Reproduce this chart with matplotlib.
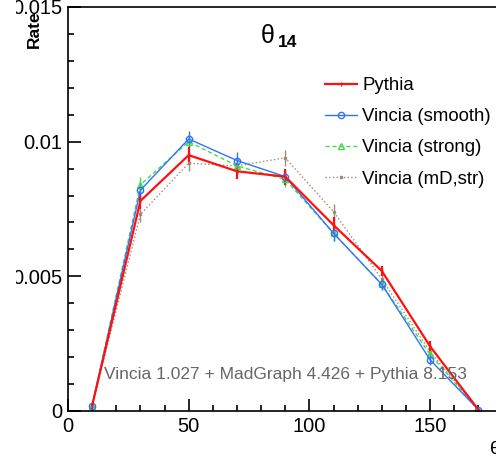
#!/usr/bin/env python
# -*- coding:utf-8 -*-
'''
theta_14 distribution: Pythia vs Vincia variants
'''

import matplotlib
matplotlib.use('Agg')
from matplotlib import pyplot as plt
from matplotlib.ticker import MultipleLocator, FixedLocator, FixedFormatter
from matplotlib.patches import Rectangle

plt.rcParams['font.family'] = ['Liberation Sans', 'DejaVu Sans']

# data
x = [10, 30, 50, 70, 90, 110, 130, 150, 170]
pythia = [0.0002, 0.0078, 0.0095, 0.0089, 0.0087, 0.0069, 0.0052, 0.0024, 0.00005]
pythia_err = [0.00005, 0.0003, 0.0003, 0.0003, 0.0003, 0.0003, 0.0002, 0.0002, 0.00003]
smooth = [0.0002, 0.0082, 0.0101, 0.0093, 0.0087, 0.0066, 0.0047, 0.0019, 0.00005]
smooth_err = [0.00005, 0.0003, 0.0003, 0.0003, 0.0003, 0.0003, 0.0002, 0.0002, 0.00003]
strong = [0.0002, 0.0084, 0.0100, 0.0091, 0.0086, 0.0066, 0.0047, 0.0021, 0.00005]
strong_err = [0.00005, 0.0003, 0.0003, 0.0003, 0.0003, 0.0003, 0.0002, 0.0002, 0.00003]
mdstr = [0.0002, 0.0073, 0.0092, 0.0091, 0.0094, 0.0074, 0.0049, 0.0022, 0.00005]
mdstr_err = [0.00005, 0.0003, 0.0003, 0.0003, 0.0003, 0.0003, 0.0002, 0.0002, 0.00003]

yticks = [0, 0.005, 0.01, 0.015]
ytick_labels = ['0', '0.005', '0.01', '0.015']
xticks = [0, 50, 100, 150]
xtick_labels = ['0', '50', '100', '150']

fig = plt.figure(figsize=(4.96, 4.57), dpi=100)
# axes runs a bit past the right edge of the canvas, as in the original
ax = fig.add_axes([68/496, 46/457, 434.5/496, 404/457])

e4 = ax.errorbar(x, mdstr, yerr=mdstr_err, color='#a08a7a', linestyle=':', linewidth=1.0,
                 marker='s', markersize=2, elinewidth=1.0)
e3 = ax.errorbar(x, strong, yerr=strong_err, color='#44dd44', linestyle='--', linewidth=1.0,
                 marker='^', markersize=4.5, markerfacecolor='none', dashes=(3, 2))
e2 = ax.errorbar(x, smooth, yerr=smooth_err, color='#2f72ff', linestyle='-', linewidth=1.0,
                 marker='o', markersize=4.5, markerfacecolor='none')
e1 = ax.errorbar(x, pythia, yerr=pythia_err, color='#ff1010', linestyle='-', linewidth=1.6,
                 marker='|', markersize=3)

ax.set_xlim(0, 180)
ax.set_ylim(0, 0.015)

ax.xaxis.set_major_locator(FixedLocator(xticks))
ax.xaxis.set_major_formatter(FixedFormatter(xtick_labels))
ax.xaxis.set_minor_locator(MultipleLocator(10))
ax.yaxis.set_major_locator(FixedLocator(yticks))
ax.yaxis.set_major_formatter(FixedFormatter(ytick_labels))
ax.yaxis.set_minor_locator(MultipleLocator(0.001))

ax.tick_params(which='both', direction='in', top=False, right=False, width=1.2)
ax.tick_params(which='major', length=9, labelsize=14.5, pad=4)
ax.tick_params(which='minor', length=4.5)
for s in ax.spines.values():
    s.set_linewidth(1.2)

# ROOT pad clips the y labels a little left of the axis -> white strip on the left
fig.patches.append(Rectangle((0, 0), 16/496, 1, transform=fig.transFigure,
                             facecolor='white', edgecolor='none', zorder=5))

fig.text(34/496, 1 - 10/457, 'Rate', rotation=90, ha='center', va='top',
         fontsize=12.5, fontweight='bold', zorder=6)
fig.text(490/496, 1 - 450/457, 'θ', ha='left', va='center', fontsize=14)

# title
fig.text(268/496, 1 - 43/457, 'θ', ha='center', va='baseline', fontsize=18)
fig.text(278/496, 1 - 47/457, '14', ha='left', va='baseline', fontsize=12.5,
         fontweight='bold')

ax.text(104/496, 1 - 375/457, 'Vincia 1.027 + MadGraph 4.426 + Pythia 8.153',
        transform=fig.transFigure, ha='left', va='center', fontsize=12.5, color='#666666')

handles = [e1.lines[0], e2.lines[0], e3.lines[0], e4.lines[0]]
labels = ['Pythia', 'Vincia (smooth)', 'Vincia (strong)', 'Vincia (mD,str)']
ax.legend(handles, labels,
          loc='upper left', bbox_to_anchor=(325/496, 1 - 77/457),
          bbox_transform=fig.transFigure, frameon=False, fontsize=13.4,
          handlelength=1.72, handletextpad=0.28, labelspacing=0.76,
          borderpad=0, borderaxespad=0)

plt.savefig('out.png', dpi=100)
